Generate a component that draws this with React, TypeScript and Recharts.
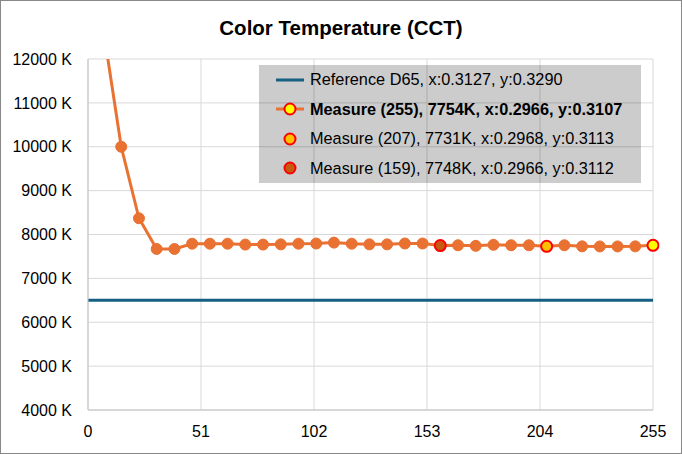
import React from 'react';
import { LineChart, Line, XAxis, YAxis, CartesianGrid, Legend } from 'recharts';

// measured points (input level -> CCT in kelvin)
const LEVELS = [7, 15, 23, 31, 39, 47, 55, 63, 71, 79, 87, 95, 103, 111, 119, 127, 135, 143, 151, 159, 167, 175, 183, 191, 199, 207, 215, 223, 231, 239, 247, 255];
const CCT = [12650, 10000, 8370, 7670, 7670, 7790, 7790, 7790, 7770, 7770, 7775, 7790, 7795, 7815, 7790, 7775, 7775, 7795, 7795, 7748, 7755, 7742, 7765, 7755, 7755, 7731, 7755, 7730, 7728, 7728, 7730, 7754];

// reference white point
const REF_LEVELS = [0, 255];
const REF_CCT = 6504;

// highlighted measures
const HIGHLIGHT_LEVELS = [255, 207, 159];
const HIGHLIGHT_CCT = [7754, 7731, 7748];
const HIGHLIGHT_FILLS = ['#FFFF00', '#FFC000', '#C55A11'];

const X_TICKS = [0, 51, 102, 153, 204, 255];
const Y_TICKS = [4000, 5000, 6000, 7000, 8000, 9000, 10000, 11000, 12000];

const LEGEND_LABELS = [
  'Reference D65, x:0.3127, y:0.3290',
  'Measure (255), 7754K, x:0.2966, y:0.3107',
  'Measure (207), 7731K, x:0.2968, y:0.3113',
  'Measure (159), 7748K, x:0.2966, y:0.3112',
];

const COLORS = {
  ref: '#156082',
  measure: '#E97132',
  ring: '#FF0000',
  grid: '#D9D9D9',
  axis: '#C4C4C4',
};

const FONT = '"Liberation Sans", Arial, sans-serif';

const measureData = LEVELS.map((x, i) => ({ x, cct: CCT[i] }));
const refData = REF_LEVELS.map((x) => ({ x, ref: REF_CCT }));
const highlightData = HIGHLIGHT_LEVELS.map((x, i) => [{ x, cct: HIGHLIGHT_CCT[i] }]);

const renderLegend = () => (
  <div
    style={{
      background: 'rgba(0,0,0,0.2)',
      width: 382,
      height: 118,
      fontFamily: FONT,
      fontSize: 16.3,
      color: '#000',
    }}
  >
    {LEGEND_LABELS.map((label, i) => (
      <div key={label} style={{ display: 'flex', alignItems: 'center', height: 29.5 }}>
        <svg width={51} height={16} style={{ flex: 'none' }}>
          {i === 0 && <line x1={17} x2={45} y1={8} y2={8} stroke={COLORS.ref} strokeWidth={3} />}
          {i === 1 && <line x1={17} x2={45} y1={8} y2={8} stroke={COLORS.measure} strokeWidth={3} />}
          {i > 0 && (
            <circle cx={31} cy={8} r={5.5} fill={HIGHLIGHT_FILLS[i - 1]} stroke={COLORS.ring} strokeWidth={2} />
          )}
        </svg>
        <span style={{ fontWeight: i === 1 ? 'bold' : 'normal', whiteSpace: 'nowrap' }}>{label}</span>
      </div>
    ))}
  </div>
);

export default function App() {
  return (
    <div
      style={{
        position: 'absolute',
        top: 0,
        left: 0,
        width: 682,
        height: 454,
        boxSizing: 'border-box',
        border: '1px solid #888',
        background: '#fff',
        fontFamily: FONT,
      }}
    >
      <div
        style={{
          position: 'absolute',
          top: 15,
          left: 0,
          width: '100%',
          textAlign: 'center',
          fontWeight: 'bold',
          fontSize: 20.5,
          lineHeight: '24px',
          color: '#000',
        }}
      >
        Color Temperature (CCT)
      </div>
      <LineChart
        width={680}
        height={452}
        margin={{ top: 58, right: 28, bottom: 0, left: 0 }}
        style={{ position: 'absolute', top: 0, left: 0 }}
      >
        <CartesianGrid stroke={COLORS.grid} strokeWidth={1} />
        <XAxis
          type="number"
          dataKey="x"
          domain={[0, 255]}
          ticks={X_TICKS}
          interval={0}
          height={43}
          tickLine={false}
          tickSize={0}
          tickMargin={16}
          axisLine={{ stroke: COLORS.axis }}
          tick={{ fill: '#000', fontSize: 16, fontFamily: FONT }}
        />
        <YAxis
          type="number"
          domain={[4000, 12000]}
          allowDataOverflow
          ticks={Y_TICKS}
          interval={0}
          width={87}
          tickLine={false}
          tickSize={0}
          tickMargin={16}
          axisLine={{ stroke: COLORS.axis }}
          tickFormatter={(v) => `${v} K`}
          tick={{ fill: '#000', fontSize: 16, fontFamily: FONT }}
        />
        <Legend layout="vertical" align="center" verticalAlign="middle" content={renderLegend} wrapperStyle={{ left: 258, top: 64, width: 382, height: 118 }} />
        <Line
          data={refData}
          dataKey="ref"
          stroke={COLORS.ref}
          strokeWidth={3}
          dot={false}
          activeDot={false}
          isAnimationActive={false}
        />
        <Line
          data={measureData}
          dataKey="cct"
          stroke={COLORS.measure}
          strokeWidth={3}
          dot={{ r: 5.5, fill: COLORS.measure, stroke: COLORS.measure, strokeWidth: 1, clipDot: false }}
          activeDot={false}
          isAnimationActive={false}
        />
        {highlightData.map((d, i) => (
          <Line
            key={HIGHLIGHT_LEVELS[i]}
            data={d}
            dataKey="cct"
            stroke="none"
            dot={{ r: 5.5, fill: HIGHLIGHT_FILLS[i], stroke: COLORS.ring, strokeWidth: 2, clipDot: false }}
            activeDot={false}
            isAnimationActive={false}
          />
        ))}
      </LineChart>
    </div>
  );
}
